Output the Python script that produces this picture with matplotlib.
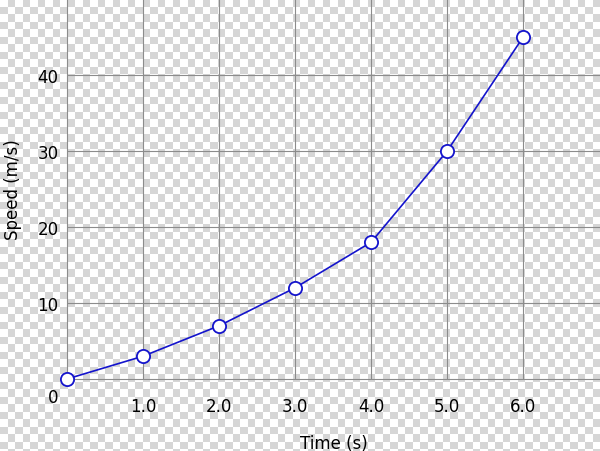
import numpy as np
import matplotlib
matplotlib.use("Agg")
import matplotlib.pyplot as plt

time_s = [0, 1, 2, 3, 4, 5, 6]
speed = [0, 3, 7, 12, 18, 30, 45]
x_ticks = [1, 2, 3, 4, 5, 6]
x_tick_labels = ["1.0", "2.0", "3.0", "4.0", "5.0", "6.0"]
y_ticks = [10, 20, 30, 40]

W, H, DPI = 600, 452, 100
LINE = "#1414cc"
GRID = "#8c8c8c"

fig = plt.figure(figsize=(W / DPI, H / DPI), dpi=DPI)

# transparency-style checkerboard behind everything
sq = 7.5
yy, xx = np.mgrid[0:H, 0:W]
check = ((xx // sq + yy // sq) % 2).astype(bool)
bg = np.ones((H, W, 3))
bg[check] = 0.84
fig.figimage(bg, xo=0, yo=0, origin="upper", zorder=0)

ax = fig.add_axes([67 / W, 72 / H, 1 - 67 / W, 1 - 72 / H])
ax.set_zorder(2)
ax.set_facecolor("none")
ax.plot(time_s, speed, color=LINE, lw=1.2, marker="o", ms=9.5,
        mfc="white", mec=LINE, mew=1.3, zorder=3, clip_on=False)

ax.set_xlim(0, 7.01)
ax.set_ylim(0, 50)
ax.set_xticks(x_ticks)
ax.set_xticklabels(x_tick_labels)
ax.set_yticks(y_ticks)
ax.tick_params(length=0, labelsize=12, colors="black")
ax.tick_params(axis="x", pad=13)
ax.tick_params(axis="y", pad=6)
ax.grid(True, color=GRID, lw=0.8)
for s in ["top", "right"]:
    ax.spines[s].set_visible(False)
for s in ["left", "bottom"]:
    ax.spines[s].set_color(GRID)
    ax.spines[s].set_linewidth(0.8)

ax.annotate("0", (0, 0), xytext=(-10, -13), textcoords="offset points",
            ha="center", va="center", fontsize=12)

ax.set_xlabel("Time (s)", fontsize=12)
ax.set_ylabel("Speed (m/s)", fontsize=12)
ax.xaxis.set_label_coords(0.5, -0.145)
ax.yaxis.set_label_coords(-0.085, 0.5)

fig.savefig("out.png", dpi=DPI)
plt.close(fig)
